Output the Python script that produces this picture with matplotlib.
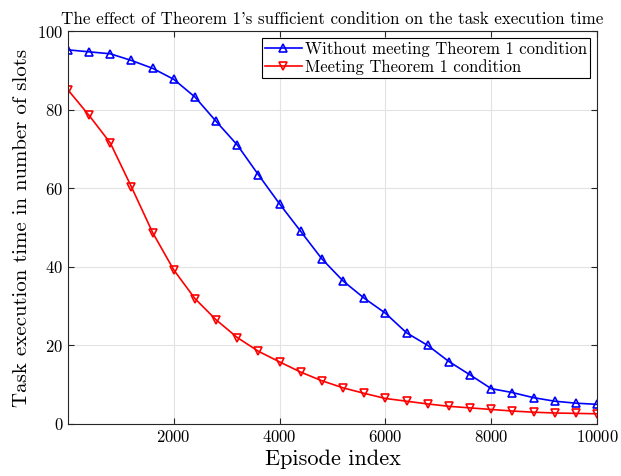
import numpy as np
import matplotlib
matplotlib.use("Agg")
import matplotlib.pyplot as plt

plt.rcParams['font.family'] = 'serif'
plt.rcParams['font.serif'] = ['cmr10']
plt.rcParams['mathtext.fontset'] = 'cm'
plt.rcParams['axes.formatter.use_mathtext'] = True

# data
episodes = np.arange(0, 10001, 400)
without_cond = [95.2, 94.7, 94.2, 92.5, 90.5, 87.7, 83.2, 77.0, 71.0, 63.4,
                56.0, 49.0, 42.0, 36.4, 32.0, 28.2, 23.2, 20.0, 15.9, 12.5,
                9.0, 8.0, 6.7, 5.8, 5.3, 5.0]
with_cond = [85.0, 78.5, 71.5, 60.3, 48.7, 39.2, 31.9, 26.5, 22.0, 18.5,
             15.8, 13.2, 11.0, 9.2, 7.8, 6.5, 5.8, 5.1, 4.5, 4.1,
             3.7, 3.3, 3.0, 2.8, 2.7, 2.6]
xticks = [2000, 4000, 6000, 8000, 10000]
yticks = [0, 20, 40, 60, 80, 100]

fig = plt.figure(figsize=(6.21, 4.76), dpi=100)
ax = fig.add_axes([68/621, 52/476, 529/621, 393/476])

ax.plot(episodes, without_cond, color='blue', marker='^', markersize=6,
        markerfacecolor='none', markeredgewidth=1.2, linewidth=1.2,
        label='Without meeting Theorem 1 condition')
ax.plot(episodes, with_cond, color='red', marker='v', markersize=6,
        markerfacecolor='none', markeredgewidth=1.2, linewidth=1.2,
        label='Meeting Theorem 1 condition')

ax.set_xlim(0, 10000)
ax.set_ylim(0, 100)
ax.set_xticks(xticks)
ax.set_yticks(yticks)
ax.grid(True, color='#e3e3e3', linewidth=0.8)
ax.set_axisbelow(True)
ax.tick_params(direction='in', top=True, right=True, labelsize=12, colors='#262626',
               labelcolor='black', length=4)
for s in ax.spines.values():
    s.set_color('#262626')
    s.set_linewidth(0.8)

ax.set_xlabel('Episode index', fontsize=16, labelpad=3)
ax.set_ylabel('Task execution time in number of slots', fontsize=15)
ax.set_title("The effect of Theorem 1's sufficient condition on the task execution time",
             fontsize=12.2, pad=5)

leg = ax.legend(loc='upper right', fontsize=12, fancybox=False, framealpha=1,
                edgecolor='black', borderpad=0.2, handlelength=2.2,
                handletextpad=0.2, labelspacing=0.15, borderaxespad=0.4)
leg.get_frame().set_linewidth(0.8)

fig.savefig('out.png', dpi=100)
